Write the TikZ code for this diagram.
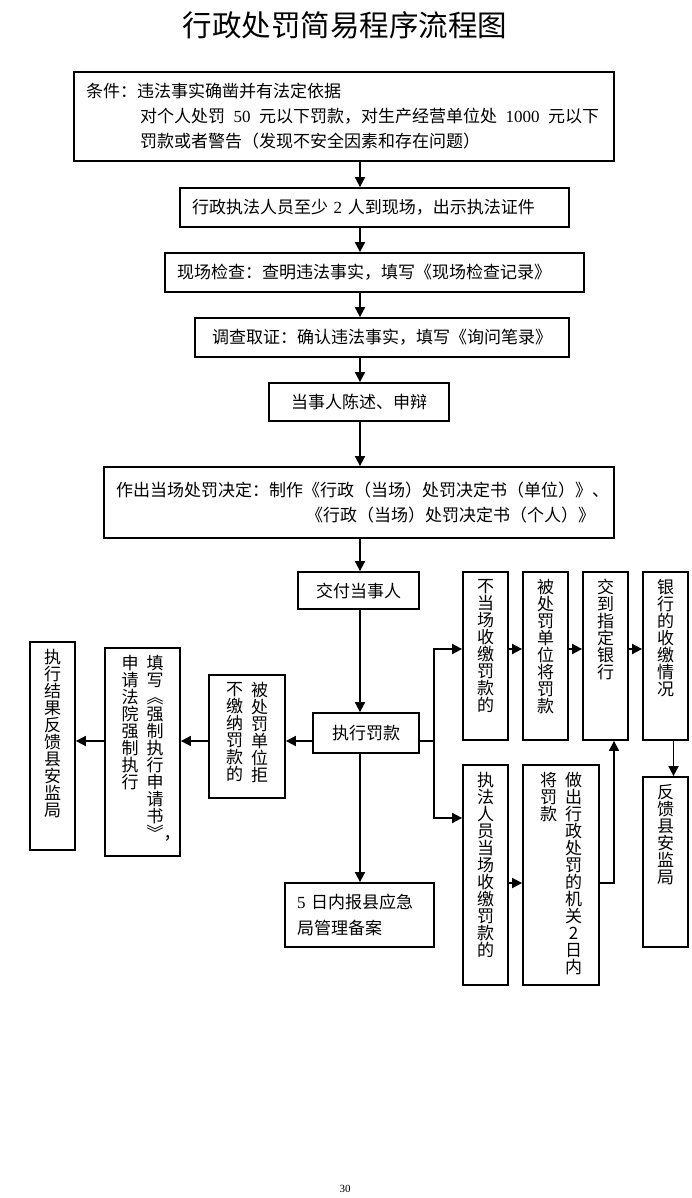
\documentclass[tikz,border=0pt]{standalone}
\usepackage{fontspec}
\setmainfont{Noto Sans CJK SC}
\newfontfamily\numfont{Liberation Serif}
\usetikzlibrary{arrows.meta}

\makeatletter
% one column of characters, read from top to bottom
\newcommand\vcol[2]{\vbox to #1{\hsize=1em\centering\baselineskip=17pt\vskip 7pt
  \@tfor\vchar:=#2\do{\vchar\\}\vfil}}
\makeatother

\begin{document}
\begin{tikzpicture}[x=1pt, y=-1pt,
    font=\fontsize{17}{25}\selectfont,
    box/.style={draw, line width=1.8pt, inner xsep=12pt, inner ysep=0pt},
    vbox/.style={draw, line width=1.8pt, inner sep=0pt},
    arr/.style={line width=1.8pt, -{Triangle[length=10pt, width=10pt]}}]
  \useasboundingbox (0,0) rectangle (692,1198);

  % Title
  \node (title) at (345,25) {\fontsize{29.5}{29.5}\selectfont 行政处罚简易程序流程图};

  % Main line of steps
  \node[box, text width=516pt, minimum height=89pt, align=left] (cond) at (344,116.5)
    {条件：违法事实确凿并有法定依据\\
     \hspace*{54pt}对个人处罚\hspace{0.5em}{\numfont 50}\hspace{0.5em}元以下罚款，对生产经营单位处\hspace{0.5em}{\numfont 1000}\hspace{0.5em}元以下\\
     \hspace*{54pt}罚款或者警告（发现不安全因素和存在问题）};
  \node[box, text width=365pt, minimum height=39pt, align=left] (staff) at (374.5,207.5)
    {行政执法人员至少 {\numfont 2} 人到现场，出示执法证件};
  \node[box, text width=395pt, minimum height=39pt, align=left] (scene) at (374.5,272.5)
    {现场检查：查明违法事实，填写《现场检查记录》};
  \node[box, text width=350pt, minimum height=39pt, align=center] (inquiry) at (382,337.5)
    {调查取证：确认违法事实，填写《询问笔录》};
  \node[box, text width=156pt, minimum height=38pt, align=center] (plead) at (359,402)
    {当事人陈述、申辩};
  \node[box, text width=486pt, minimum height=71pt, align=left] (decide) at (359,502.5)
    {作出当场处罚决定：制作《行政（当场）处罚决定书（单位）》、\\
     \hspace*{190pt}《行政（当场）处罚决定书（个人）》};
  \node[box, text width=97pt, minimum height=37pt, align=center] (deliver) at (358.5,590.5)
    {交付当事人};
  \node[box, text width=82pt, minimum height=40pt, align=center] (execute) at (366,733)
    {执行罚款};
  \node[box, text width=125pt, minimum height=64pt, align=left,
        font=\fontsize{17}{26}\selectfont] (report) at (359.5,915)
    {{\numfont 5} 日内报县应急\\局管理备案};

  % Refusal branch (left)
  \node[vbox, minimum width=76pt] (refuse) at (247,736.5)
    {\vcol{123pt}{不缴纳罚款的}\hspace{8pt}\vcol{123pt}{被处罚单位拒}};
  \node[vbox, minimum width=75pt] (apply) at (142.5,752)
    {\vcol{208pt}{申请法院强制执行}\hspace{8pt}%
     \vcol{208pt}{填写︽强制执行申请书{︾\rlap{，}}}};
  \node[vbox, minimum width=45pt] (feedbackL) at (52.5,746)
    {\vcol{208pt}{执行结果反馈县安监局}};

  % Payment branch (right)
  \node[vbox, minimum width=45pt] (nocash) at (485.5,656) {\vcol{168pt}{不当场收缴罚款的}};
  \node[vbox, minimum width=45pt] (pay) at (545.5,656) {\vcol{168pt}{被处罚单位将罚款}};
  \node[vbox, minimum width=45pt] (bank) at (605.5,656) {\vcol{168pt}{交到指定银行}};
  \node[vbox, minimum width=45pt] (bankinfo) at (665.5,656) {\vcol{168pt}{银行的收缴情况}};
  \node[vbox, minimum width=45pt] (feedbackR) at (665.5,862) {\vcol{170pt}{反馈县安监局}};
  \node[vbox, minimum width=45pt] (oncash) at (485.5,875) {\vcol{220pt}{执法人员当场收缴罚款的}};
  \node[vbox, minimum width=76pt] (office) at (561,875)
    {\vcol{220pt}{将罚款}\hspace{8pt}\vcol{220pt}{做出行政处罚的机关2日内}};

  % Page number
  \node (pagenum) at (345,1189) {\numfont\fontsize{11}{11}\selectfont 30};

  % Connectors
  \coordinate (trunk) at (360,0);
  \coordinate (lrow) at (0,741);
  \coordinate (toprow) at (0,649);
  \coordinate (botrow) at (0,818);
  \coordinate (handin) at (0,883);

  \foreach \a/\b in {cond/staff, staff/scene, scene/inquiry, inquiry/plead,
                     plead/decide, decide/deliver, deliver/execute, execute/report}
    \draw[arr] (\a.south -| trunk) -- (\b.north -| trunk);

  \foreach \a/\b in {execute/refuse, refuse/apply, apply/feedbackL}
    \draw[arr] (\a.west |- lrow) -- (\b.east |- lrow);

  \draw[line width=1.8pt] (execute.east |- lrow) -- ++(14,0) coordinate (fork);
  \draw[arr] (fork) |- (nocash.west |- toprow);
  \draw[arr] (fork) |- (oncash.west |- botrow);

  \foreach \a/\b in {nocash/pay, pay/bank, bank/bankinfo}
    \draw[arr] (\a.east |- toprow) -- (\b.west |- toprow);
  \draw[arr] ([xshift=8pt]bankinfo.south) -- ([xshift=8pt]feedbackR.north);
  \draw[arr] (oncash.east |- handin) -- (office.west |- handin);
  \draw[arr] (office.east |- handin) -| ([xshift=8.5pt]bank.south);
\end{tikzpicture}
\end{document}
